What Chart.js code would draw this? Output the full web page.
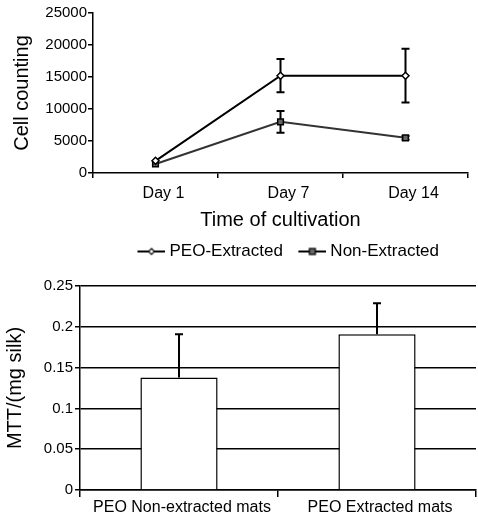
<!DOCTYPE html>
<html><head><meta charset="utf-8">
<script src="https://cdn.jsdelivr.net/npm/chart.js@4.4.0/dist/chart.umd.min.js"></script>
<style>
html,body{margin:0;padding:0;background:#fff;}
#w1{position:absolute;left:0;top:0;width:478px;height:270px;}
#w2{position:absolute;left:0;top:260px;width:478px;height:260px;}
</style></head><body>
<div id="w1"><canvas id="c1"></canvas></div>
<div id="w2"><canvas id="c2"></canvas></div>
<script>
// ---- data: top chart ----
const days = ['Day 1', 'Day 7', 'Day 14'];
const peoExtracted = [1900, 15200, 15200];
const peoExtractedErr = [0, 2600, 4200];
const nonExtracted = [1400, 8000, 5500];
const nonExtractedErr = [0, 1700, 300];
const cellTicks = [0, 5000, 10000, 15000, 20000, 25000];
const seriesNames = ['PEO-Extracted', 'Non-Extracted'];

// ---- data: bottom chart ----
const mats = ['PEO Non-extracted mats', 'PEO Extracted mats'];
const mtt = [0.138, 0.191];
const mttErr = [0.053, 0.038];
const mttTicks = [0, 0.05, 0.1, 0.15, 0.2, 0.25];

const FAM = '"Liberation Sans", Arial, sans-serif';
Chart.defaults.font.family = FAM;
Chart.defaults.color = '#000';

const errorBars = {
  id: 'errorBars',
  draw(chart, opts) {
    const ctx = chart.ctx, ys = chart.scales.y;
    chart.data.datasets.forEach((ds, di) => {
      const errs = ds.errors; if (!errs) return;
      const meta = chart.getDatasetMeta(di);
      meta.data.forEach((el, i) => {
        const v = ds.data[i], e = errs[i]; if (!e) return;
        const x = el.x;
        const yt = ys.getPixelForValue(v + e);
        const yb = opts.upOnly ? el.y : ys.getPixelForValue(v - e);
        const cw = opts.cap || 4;
        ctx.save();
        ctx.strokeStyle = '#000'; ctx.lineWidth = opts.width || 2;
        ctx.beginPath();
        ctx.moveTo(x, yb); ctx.lineTo(x, yt);
        ctx.moveTo(x - cw, yt); ctx.lineTo(x + cw, yt);
        if (!opts.upOnly) { ctx.moveTo(x - cw, yb); ctx.lineTo(x + cw, yb); }
        ctx.stroke(); ctx.restore();
      });
    });
  },
  beforeDatasetsDraw(chart, args, opts) { if (opts.before) this.draw(chart, opts); },
  afterDatasetsDraw(chart, args, opts) { if (!opts.before) this.draw(chart, opts); }
};

function legendMarker(kind) {
  const c = document.createElement('canvas'); c.width = 48; c.height = 12;
  const g = c.getContext('2d');
  g.strokeStyle = '#000'; g.lineWidth = 2;
  g.beginPath(); g.moveTo(20, 6); g.lineTo(48, 6); g.stroke();
  g.lineWidth = 1.2;
  if (kind === 'diamond') {
    g.fillStyle = '#fff';
    g.beginPath(); g.moveTo(34, 3); g.lineTo(37, 6); g.lineTo(34, 9); g.lineTo(31, 6); g.closePath();
    g.fill(); g.stroke();
  } else {
    g.fillStyle = '#666'; g.fillRect(31, 3, 6, 6); g.strokeRect(31, 3, 6, 6);
  }
  return c;
}
const markers = [legendMarker('diamond'), legendMarker('square')];

new Chart(document.getElementById('c1'), {
  type: 'line',
  data: {
    labels: days,
    datasets: [
      { label: seriesNames[0], data: peoExtracted, errors: peoExtractedErr,
        borderColor: '#000', borderWidth: 2, pointStyle: 'rectRot', pointRadius: 3.5,
        pointBackgroundColor: '#fff', pointBorderColor: '#000', pointBorderWidth: 1.5 },
      { label: seriesNames[1], data: nonExtracted, errors: nonExtractedErr,
        borderColor: '#333', borderWidth: 2, pointStyle: 'rect', pointRadius: 4,
        pointBackgroundColor: '#666', pointBorderColor: '#000', pointBorderWidth: 1.5 }
    ]
  },
  plugins: [errorBars],
  options: {
    responsive: true, maintainAspectRatio: false, animation: false,
    layout: { padding: { top: 13, right: 10, left: 0, bottom: 0 } },
    plugins: {
      tooltip: { enabled: false },
      errorBars: { before: true, cap: 4, width: 2 },
      legend: {
        position: 'bottom', fullSize: false,
        labels: {
          usePointStyle: true, pointStyleWidth: 39, padding: 0, color: '#000',
          font: { size: 17, family: FAM },
          generateLabels(chart) {
            const items = Chart.defaults.plugins.legend.labels.generateLabels(chart);
            items.forEach((it, i) => { it.pointStyle = markers[i]; });
            return items;
          }
        }
      }
    },
    scales: {
      x: {
        offset: true,
        grid: { display: true, offset: true, drawOnChartArea: false, drawTicks: true, tickLength: 5, color: '#000', lineWidth: 1.5 },
        border: { display: true, color: '#000', width: 1.5 },
        ticks: { padding: 6, labelOffset: 8, color: '#000', font: { size: 16 } },
        title: { display: true, text: 'Time of cultivation', color: '#000', font: { size: 20 }, padding: { top: 0, bottom: 11 } },
        afterFit(s) { s.height = 70; }
      },
      y: {
        min: 0, max: 25000,
        afterBuildTicks(s) { s.ticks = cellTicks.map(v => ({ value: v })); },
        ticks: { callback: v => String(v), padding: 1, color: '#000', font: { size: 15 } },
        grid: { drawOnChartArea: false, tickLength: 5, color: '#000', lineWidth: 1.5 },
        border: { display: true, color: '#000', width: 1.5 },
        title: { display: true, text: 'Cell counting', color: '#000', font: { size: 20 }, padding: { top: 10, bottom: 0 } },
        afterFit(s) { s.width = 93; }
      }
    }
  }
});

new Chart(document.getElementById('c2'), {
  type: 'bar',
  data: {
    labels: mats,
    datasets: [{ label: 'MTT', data: mtt, errors: mttErr, backgroundColor: '#fff', borderColor: '#000', borderWidth: 1.5,
      barPercentage: 0.39, categoryPercentage: 1 }]
  },
  plugins: [errorBars],
  options: {
    responsive: true, maintainAspectRatio: false, animation: false,
    layout: { padding: { top: 26, right: 2, left: 0, bottom: 0 } },
    plugins: {
      legend: { display: false }, tooltip: { enabled: false },
      errorBars: { before: false, upOnly: true, cap: 4, width: 2 }
    },
    scales: {
      x: {
        grid: { display: true, offset: true, drawOnChartArea: false, drawTicks: true, tickLength: 7, color: '#000', lineWidth: 1.5 },
        border: { display: true, color: '#000', width: 1.5 },
        ticks: { padding: 1, labelOffset: 3, color: '#000', font: { size: 16 } },
        afterFit(s) { s.height = 30; }
      },
      y: {
        min: 0, max: 0.25,
        afterBuildTicks(s) { s.ticks = mttTicks.map(v => ({ value: v })); },
        ticks: { callback: v => String(v), padding: 2, color: '#000', font: { size: 15 } },
        grid: { drawOnChartArea: true, tickLength: 5, color: '#000', lineWidth: 1.5 },
        border: { display: true, color: '#000', width: 1.5 },
        title: { display: true, text: 'MTT/(mg silk)', color: '#000', font: { size: 20 }, padding: { top: 3, bottom: 0 } },
        afterFit(s) { s.width = 80; }
      }
    }
  }
});
</script>
</body></html>
